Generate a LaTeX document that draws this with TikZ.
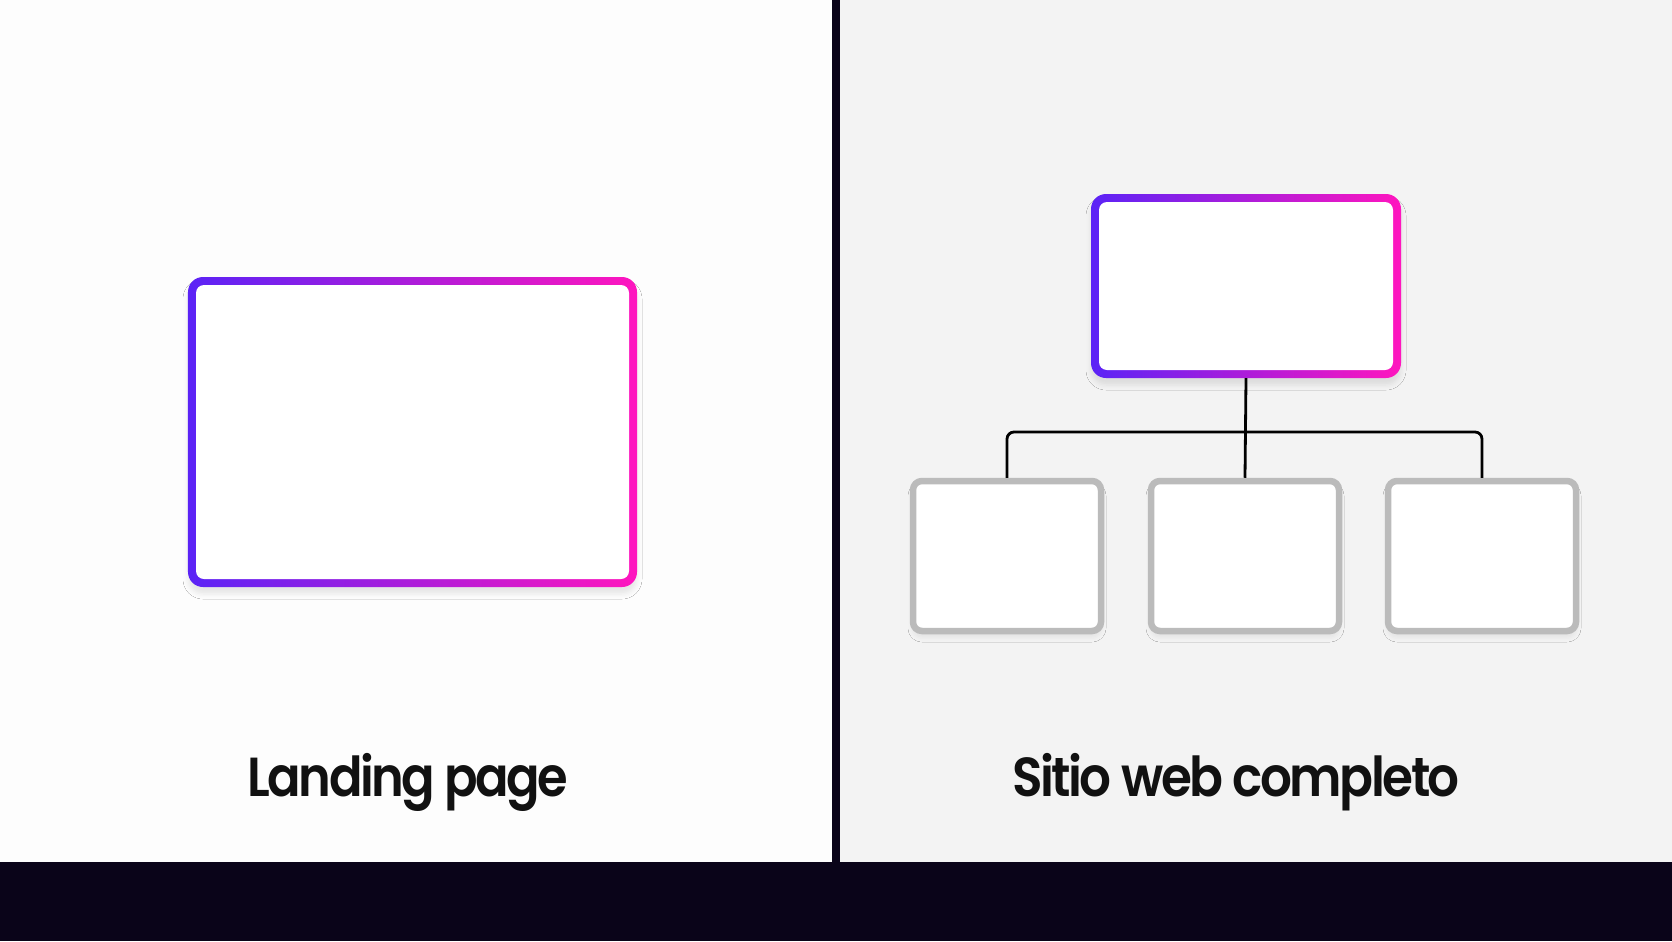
\documentclass[tikz,border=0pt]{standalone}
\usepackage{fontspec}
\newfontfamily\labelfont{Poppins}[BoldFont={Poppins SemiBold}, LetterSpace=-5]
\usetikzlibrary{positioning,shadows.blur}

\definecolor{gradA}{HTML}{5B23F6}
\definecolor{gradB}{HTML}{FF16BE}
\definecolor{childgray}{HTML}{BBBBBB}
\definecolor{inkdark}{HTML}{0A0419}
\definecolor{leftbg}{HTML}{FDFDFD}
\definecolor{rightbg}{HTML}{F3F3F3}
\definecolor{textink}{HTML}{111111}

\begin{document}
\begin{tikzpicture}[x=1bp, y=-1bp,
    gradbox/.style={rectangle, inner sep=0pt, rounded corners=15bp, left color=gradA, right color=gradB,
      blur shadow={shadow xshift=0bp, shadow yshift=-7bp, shadow blur radius=5bp, shadow opacity=9}},
    innerbox/.style={rectangle, inner sep=0pt, rounded corners=8bp, fill=white},
    childbox/.style={rectangle, inner sep=0pt, draw=childgray, line width=6.5bp, fill=white, rounded corners=9bp,
      minimum width=188bp, minimum height=150bp,
      blur shadow={shadow xshift=0bp, shadow yshift=-6bp, shadow blur radius=5bp, shadow opacity=7}},
    wire/.style={draw=black, line width=2.8bp},
    caption/.style={anchor=base, inner sep=0pt, text=textink, font=\labelfont\bfseries\fontsize{55bp}{60bp}\selectfont}]
    \useasboundingbox (0,0) rectangle (1672,941);

    % panels
    \fill[leftbg] (0,0) rectangle (836,862);
    \fill[rightbg] (836,0) rectangle (1672,862);
    \fill[inkdark] (0,862) rectangle (1672,941);
    \fill[inkdark] (832,0) rectangle (840,862);

    % landing page
    \node[gradbox, minimum width=449bp, minimum height=310bp] (lp) at (412.5,432) {};
    \node[innerbox, minimum width=433bp, minimum height=294bp] (lpin) at (lp.center) {};

    % full site
    \node[gradbox, minimum width=310bp, minimum height=184bp] (home) at (1246,286) {};
    \node[innerbox, minimum width=294bp, minimum height=168bp] (homein) at (home.center) {};

    \node[childbox] (c1) at (1007,556) {};
    \node[childbox] (c2) at (1245,556) {};
    \node[childbox] (c3) at (1482,556) {};

    \coordinate (bar) at (1245,432);
    \draw[wire] (home.south) -- (c2.north);
    \draw[wire, rounded corners=7bp] (c1.north) |- (bar) -| (c3.north);

    % captions
    \node[caption] (lpname) at (408,796) {\scalebox{0.9}[1]{Landing page}};
    \node[caption] (sitename) at (1236,796) {\scalebox{0.91}[1]{Sitio web completo}};
\end{tikzpicture}
\end{document}
